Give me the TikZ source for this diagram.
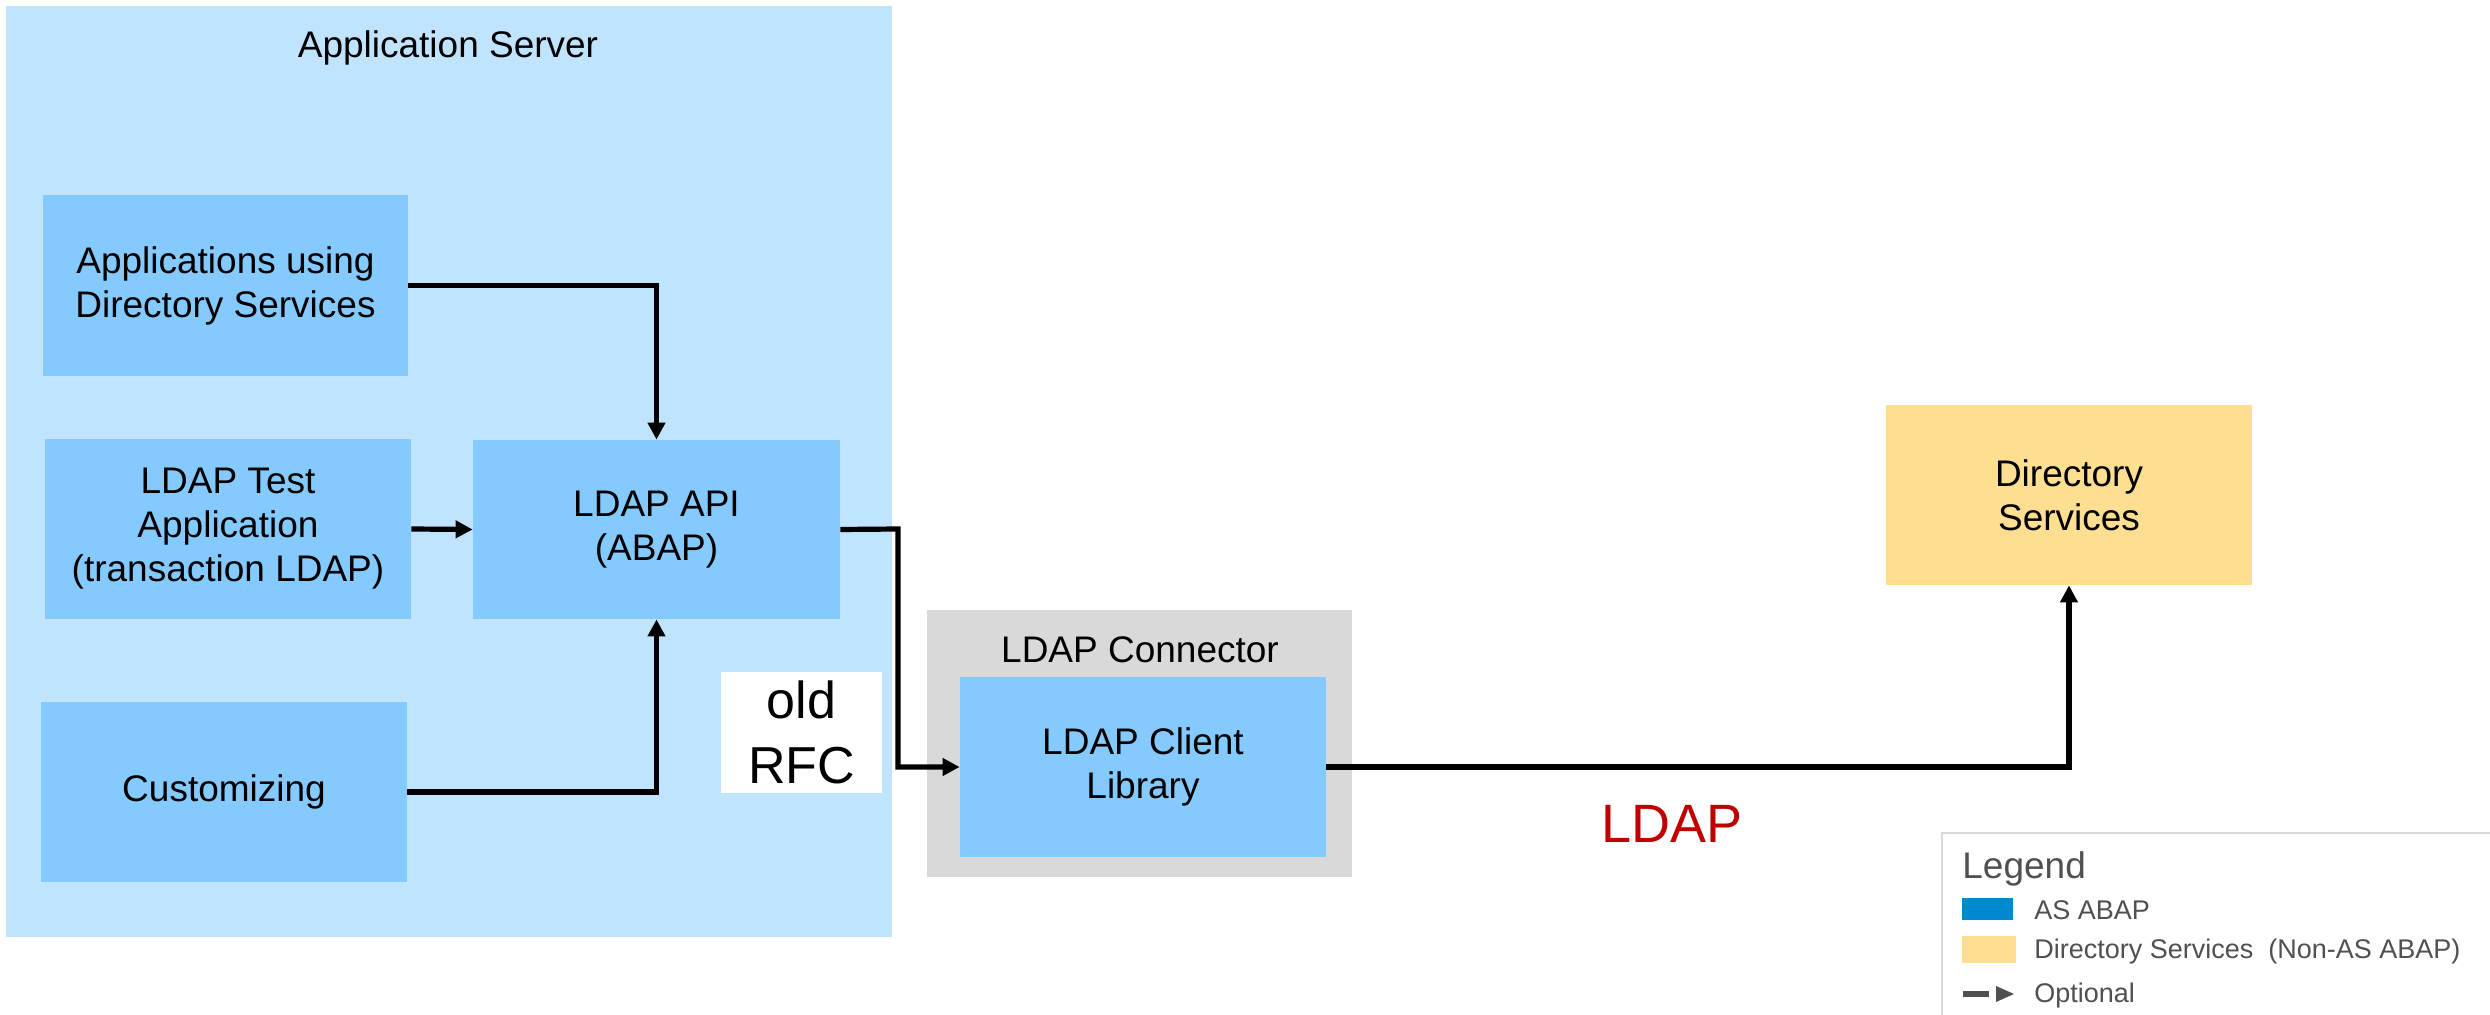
\documentclass[tikz,border=0pt]{standalone}
\usepackage{fontspec}
\setmainfont{Liberation Sans}
\usetikzlibrary{arrows.meta}
\definecolor{srvbg}{RGB}{193,228,254}
\definecolor{boxbl}{RGB}{132,202,255}
\definecolor{conngray}{RGB}{217,217,217}
\definecolor{dirylw}{RGB}{254,223,146}
\definecolor{legblue}{RGB}{0,137,209}
\definecolor{ldapred}{RGB}{192,0,0}
\definecolor{leggray}{RGB}{80,80,80}
\tikzset{
  comp/.style={fill=boxbl, draw=none, align=center, inner sep=0pt,
    font=\fontsize{18.5}{22}\selectfont},
  conn/.style={line width=2.6pt, -{Triangle[length=8.5pt,width=8.5pt]}},
  legtext/.style={anchor=base west, inner sep=0pt, text=leggray,
    font=\fontsize{13.5}{16}\selectfont},
}
\begin{document}
\begin{tikzpicture}[x=0.5pt,y=-0.5pt]
\useasboundingbox (0,0) rectangle (2490,1015);
% application server
\node[fill=srvbg, minimum width=443pt, minimum height=465.5pt, inner sep=0pt] (srv) at (449,471.5) {};
\node[anchor=base, inner sep=0pt, font=\fontsize{18.5}{22}\selectfont] (srvlbl) at (448,58) {Application Server};
% components
\node[comp, minimum width=182.5pt, minimum height=90.5pt] (apps) at (225.5,285.5) {Applications using\\Directory Services};
\node[comp, minimum width=183pt, minimum height=90pt] (test) at (228,529) {LDAP Test\\Application\\(transaction LDAP)};
\node[comp, minimum width=183pt, minimum height=90pt] (cust) at (224,792) {Customizing};
\node[comp, minimum width=183.5pt, minimum height=89.5pt] (api) at (656.5,529.5) {LDAP API\\(ABAP)};
% old RFC
\node[fill=white, minimum width=80.5pt, minimum height=60.5pt, inner sep=0pt, align=center,
  font=\fontsize{26}{32.5}\selectfont] (rfc) at (801.5,732.5) {old\\RFC};
% connector
\node[fill=conngray, minimum width=212.5pt, minimum height=133.5pt, inner sep=0pt] (ldapconn) at (1139.5,743.5) {};
\node[anchor=base, inner sep=0pt, font=\fontsize{18.5}{22}\selectfont] (connlbl) at (1140,662) {LDAP Connector};
\node[comp, minimum width=183pt, minimum height=90pt] (client) at (1143,767) {LDAP Client\\Library};
% directory services
\node[comp, fill=dirylw, minimum width=183pt, minimum height=90pt] (dir) at (2069,495) {Directory\\Services};
% LDAP label
\node[anchor=base, inner sep=0pt, text=ldapred, font=\fontsize{27}{32}\selectfont] (ldaplbl) at (1672,842) {LDAP};
% connectors
\draw[conn] (apps.east) -| (api.north);
\draw[conn] (cust.east) -| (api.south);
\draw[conn] (test.east) -- (api.west);
\coordinate (bend) at (898,529);
\draw[conn] (api.east) -- (bend) |- (client.west);
\draw[conn] (client.east) -| (dir.south);
% legend
\fill[white] (1942,833) rectangle (2490,1015);
\draw[draw=black!15, line width=1pt] (1942,1015) -- (1942,833) -- (2490,833);
\node[anchor=base west, inner sep=0pt, text=leggray, font=\fontsize{18.5}{22}\selectfont] (legtitle) at (1962,878) {Legend};
\fill[legblue] (1962,898) rectangle (2013,920);
\node[legtext] (legabap) at (2034,919) {AS ABAP};
\fill[dirylw] (1962,936) rectangle (2016,963);
\node[legtext] (legdir) at (2034,958) {Directory Services~~(Non-AS ABAP)};
\draw[leggray, line width=2.6pt] (1963,994) -- (1989,994);
\fill[leggray] (1996,986) -- (2014,994) -- (1996,1002) -- cycle;
\node[legtext] (legopt) at (2034,1002) {Optional};
\end{tikzpicture}
\end{document}
